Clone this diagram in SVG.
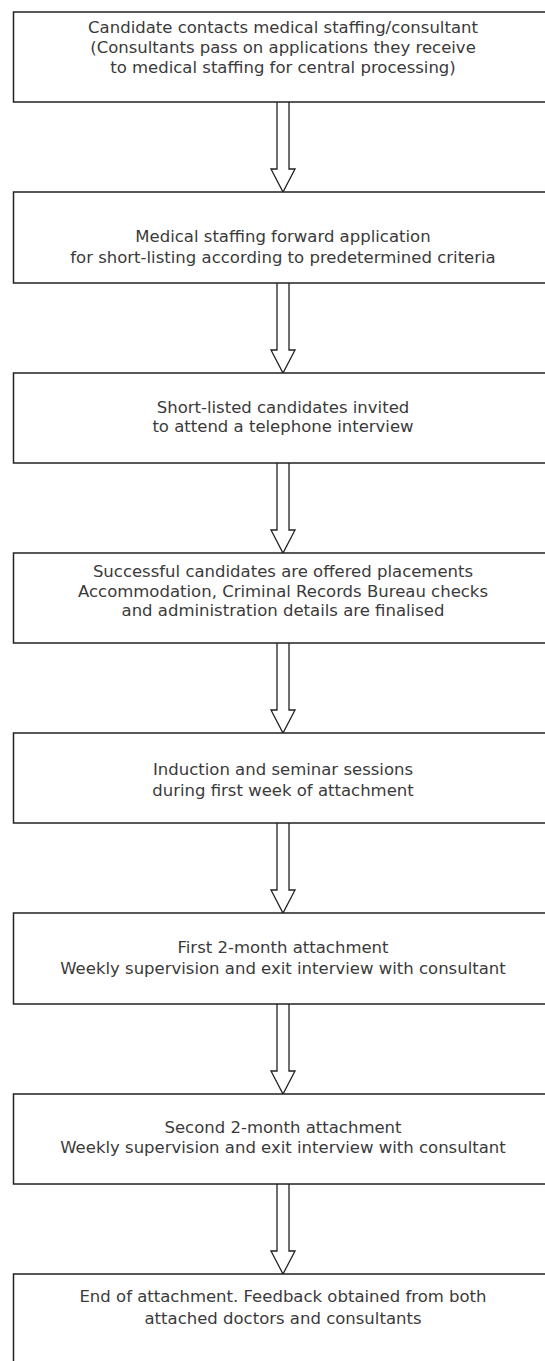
<svg xmlns="http://www.w3.org/2000/svg" width="545" height="1361" viewBox="0 0 545 1361">
<style>
.box{fill:#fff;stroke:#222;stroke-width:1.5}
.arr{fill:#fff;stroke:#222;stroke-width:1.3;stroke-linejoin:miter}
.t{font-family:"DejaVu Sans","Liberation Sans",sans-serif;font-size:16.5px;fill:#3a3a3a;text-anchor:middle}
</style>
<rect width="545" height="1361" fill="#fff"/>
<g id="connectors">
<path class="arr" d="M277,102 V169 H271 L283,192 L295,169 H289 V102"/>
<path class="arr" d="M277,283 V350 H271 L283,373 L295,350 H289 V283"/>
<path class="arr" d="M277,463 V530 H271 L283,553 L295,530 H289 V463"/>
<path class="arr" d="M277,643 V710 H271 L283,733 L295,710 H289 V643"/>
<path class="arr" d="M277,823 V890 H271 L283,913 L295,890 H289 V823"/>
<path class="arr" d="M277,1004 V1071 H271 L283,1094 L295,1071 H289 V1004"/>
<path class="arr" d="M277,1184 V1251 H271 L283,1274 L295,1251 H289 V1184"/>
</g>
<g id="n1"><rect class="box" x="13.5" y="12" width="560" height="90"/>
<text class="t" x="283" y="33">Candidate contacts medical staffing/consultant</text>
<text class="t" x="283" y="53">(Consultants pass on applications they receive</text>
<text class="t" x="283" y="73">to medical staffing for central processing)</text></g>
<g id="n2"><rect class="box" x="13.5" y="192" width="560" height="91"/>
<text class="t" x="283" y="242">Medical staffing forward application</text>
<text class="t" x="283" y="263">for short-listing according to predetermined criteria</text></g>
<g id="n3"><rect class="box" x="13.5" y="373" width="560" height="90"/>
<text class="t" x="283" y="413">Short-listed candidates invited</text>
<text class="t" x="283" y="432">to attend a telephone interview</text></g>
<g id="n4"><rect class="box" x="13.5" y="553" width="560" height="90"/>
<text class="t" x="283" y="577">Successful candidates are offered placements</text>
<text class="t" x="283" y="597">Accommodation, Criminal Records Bureau checks</text>
<text class="t" x="283" y="616">and administration details are finalised</text></g>
<g id="n5"><rect class="box" x="13.5" y="733" width="560" height="90"/>
<text class="t" x="283" y="775">Induction and seminar sessions</text>
<text class="t" x="283" y="796">during first week of attachment</text></g>
<g id="n6"><rect class="box" x="13.5" y="913" width="560" height="91"/>
<text class="t" x="283" y="953">First 2-month attachment</text>
<text class="t" x="283" y="974">Weekly supervision and exit interview with consultant</text></g>
<g id="n7"><rect class="box" x="13.5" y="1094" width="560" height="90"/>
<text class="t" x="283" y="1133">Second 2-month attachment</text>
<text class="t" x="283" y="1153">Weekly supervision and exit interview with consultant</text></g>
<g id="n8"><rect class="box" x="13.5" y="1274" width="560" height="100"/>
<text class="t" x="283" y="1302">End of attachment. Feedback obtained from both</text>
<text class="t" x="283" y="1324">attached doctors and consultants</text></g>
</svg>
